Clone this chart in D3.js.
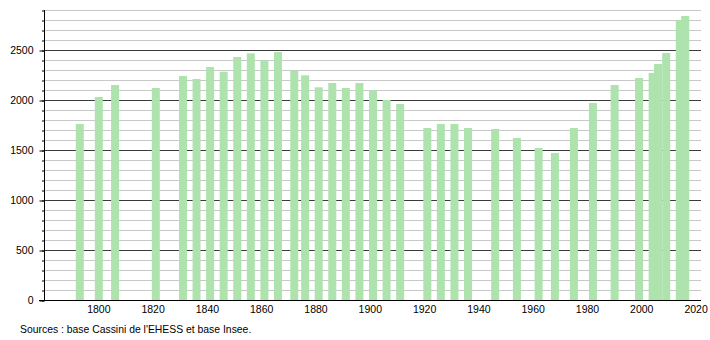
<!DOCTYPE html>
<html><head><meta charset="utf-8">
<script src="https://cdn.jsdelivr.net/npm/d3@7"></script>
<style>body{margin:0;background:#fff}svg{display:block}text{font-family:"Liberation Sans",Arial,sans-serif;font-size:10px;fill:#000}</style>
</head><body>
<script>
const years = [1793,1800,1806,1821,1831,1836,1841,1846,1851,1856,1861,1866,1872,1876,1881,1886,1891,1896,1901,1906,1911,1921,1926,1931,1936,1946,1954,1962,1968,1975,1982,1990,1999,2004,2006,2009,2014,2016];
const population = [1760,2030,2150,2120,2240,2210,2330,2283,2430,2467,2397,2480,2293,2247,2127,2170,2120,2170,2097,2000,1960,1720,1760,1760,1720,1710,1620,1520,1470,1720,1970,2150,2220,2270,2360,2470,2800,2840];
const xTickYears = [1800,1820,1840,1860,1880,1900,1920,1940,1960,1980,2000,2020];
const yMajorTicks = [0,500,1000,1500,2000,2500];
const sourceText = "Sources : base Cassini de l'EHESS et base Insee.";

const W = 710, H = 340;
const svg = d3.select("body").append("svg").attr("width", W).attr("height", H);
const x = d3.scaleLinear().domain([1780, 2022]).range([44, 701]);
const y = d3.scaleLinear().domain([0, 2900]).range([300, 10]);
const minor = d3.range(0, 2901, 100);

// gridlines
svg.append("g").selectAll("line").data(minor.filter(v => v % 500 !== 0)).join("line")
  .attr("x1", 44).attr("x2", 701).attr("y1", d => y(d) + 0.5).attr("y2", d => y(d) + 0.5)
  .attr("stroke", "#c8c8c8").attr("stroke-width", 1);
svg.append("g").selectAll("line").data(yMajorTicks.filter(v => v > 0)).join("line")
  .attr("x1", 44).attr("x2", 701).attr("y1", d => y(d) + 0.5).attr("y2", d => y(d) + 0.5)
  .attr("stroke", "#3a3a3a").attr("stroke-width", 1);

// bars
const bw = 8;
svg.append("g").selectAll("rect").data(years.map((yr, i) => ({yr, v: population[i]}))).join("rect")
  .attr("x", d => x(d.yr) - bw / 2 + 0.5).attr("width", bw)
  .attr("y", d => y(d.v)).attr("height", d => y(0) - y(d.v))
  .attr("fill", "#aee3ae");

// y axis with major and minor ticks
const yAxisMinor = d3.axisLeft(y).tickValues(minor).tickSize(2.5).tickFormat("");
const gMin = svg.append("g").attr("transform", "translate(44.5,0.5)").call(yAxisMinor);
gMin.select(".domain").remove();
const yAxis = d3.axisLeft(y).tickValues(yMajorTicks).tickSize(5).tickPadding(6).tickFormat(d3.format("d"));
const gY = svg.append("g").attr("transform", "translate(44.5,0.5)").call(yAxis);
gY.select(".domain").remove();
gY.selectAll("text").style("font-size", "10.5px");
svg.append("line").attr("x1", 44.5).attr("x2", 44.5).attr("y1", y(2900)).attr("y2", y(0) + 1)
  .attr("stroke", "#000");

// x axis
const xAxis = d3.axisBottom(x).tickValues(xTickYears).tickSize(0).tickPadding(5).tickFormat(d3.format("d"));
const gX = svg.append("g").attr("transform", "translate(0,300.5)").call(xAxis);
gX.select(".domain").remove();
gX.selectAll("text").style("font-size", "10.5px");
svg.append("line").attr("x1", 39).attr("x2", 701).attr("y1", 300.5).attr("y2", 300.5).attr("stroke", "#000");

svg.append("text").attr("x", 20).attr("y", 333).style("font-size", "10.4px").text(sourceText);
</script>
</body></html>
